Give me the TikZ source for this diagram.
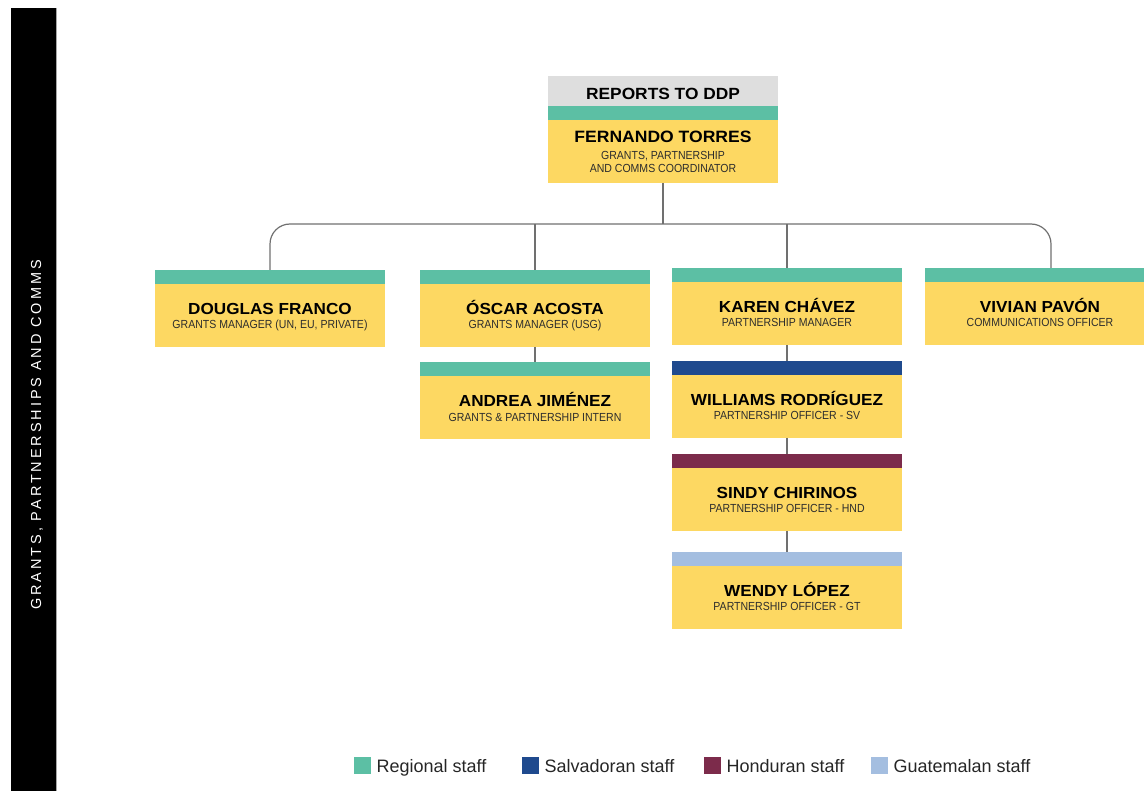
\documentclass[tikz,border=0pt]{standalone}
\usepackage{fontspec}
\setmainfont{Liberation Sans}
\newfontfamily\barfont[LetterSpace=20]{Liberation Sans}
\newfontfamily\namefam[FakeStretch=1.07]{Liberation Sans}
\newfontfamily\subfam[FakeStretch=0.9]{Liberation Sans}
\definecolor{teal}{RGB}{92,191,164}
\definecolor{boxyellow}{RGB}{253,216,98}
\definecolor{headgrey}{RGB}{222,222,222}
\definecolor{navy}{RGB}{31,74,142}
\definecolor{maroon}{RGB}{124,43,75}
\definecolor{lightblue}{RGB}{164,190,224}
\definecolor{linegrey}{RGB}{112,112,112}
\definecolor{subgrey}{RGB}{45,45,45}
\tikzset{
  body/.style={rectangle, fill=boxyellow, minimum width=230pt, minimum height=63pt, inner sep=0pt, outer sep=0pt},
  band/.style={rectangle, fill=#1, minimum width=230pt, minimum height=14pt, inner sep=0pt, outer sep=0pt},
  header/.style={rectangle, fill=headgrey, minimum width=230pt, minimum height=30pt, inner sep=0pt, outer sep=0pt},
  nametext/.style={anchor=base, inner sep=0pt, font=\namefam\fontsize{16}{17}\selectfont\bfseries, text=black},
  bignametext/.style={anchor=base, inner sep=0pt, font=\namefam\fontsize{16.4}{18}\selectfont\bfseries, text=black},
  subtext/.style={anchor=base, inner sep=0pt, font=\subfam\fontsize{11.7}{13}\selectfont, text=subgrey},
  conn/.style={draw=linegrey, line width=1.2pt},
  legsq/.style={rectangle, minimum size=17.5pt, inner sep=0pt},
  legtext/.style={anchor=base west, inner sep=0pt, font=\fontsize{18}{20}\selectfont, text=black!85},
}
\newcommand\person[6]{%
  \node[body, anchor=north west] (#1) at (#2,#3+14) {};
  \node[band=#4, anchor=south] (#1-band) at (#1.north) {};
  \node[nametext] (#1-name) at ([yshift=-30.5pt]#1.north) {#5};
  \node[subtext] (#1-sub) at ([yshift=-45pt]#1.north) {#6};
}
\begin{document}
\begin{tikzpicture}[x=1pt,y=-1pt]
\useasboundingbox (0,0) rectangle (1144,791);
% side bar
\fill[black] (11,8) rectangle (56,791);
\draw[black!35, line width=1.2pt] (56.6,8) -- (56.6,791);
\node[rotate=90, text=white, inner sep=0pt, font=\barfont\fontsize{14.5}{15}\selectfont] (bartitle) at (37,435) {GRANTS, PARTNERSHIPS AND COMMS};

% top box
\node[body, anchor=north west] (fernando) at (548,120) {};
\node[band=teal, anchor=south] (fernando-band) at (fernando.north) {};
\node[header, anchor=south] (fernando-head) at (fernando-band.north) {};
\node[anchor=base, inner sep=0pt, font=\namefam\fontsize{16.2}{18}\selectfont\bfseries] (reports) at ([yshift=-23.2pt]fernando-head.north) {REPORTS TO DDP};
\node[bignametext] (fernando-name) at ([yshift=-23pt]fernando.north) {FERNANDO TORRES};
\node[subtext] (fernando-sub1) at ([yshift=-40pt]fernando.north) {GRANTS, PARTNERSHIP};
\node[subtext] (fernando-sub2) at ([yshift=-53pt]fernando.north) {AND COMMS COORDINATOR};

% people
\person{douglas}{155}{270}{teal}{DOUGLAS FRANCO}{GRANTS MANAGER (UN, EU, PRIVATE)}
\person{oscar}{420}{270}{teal}{ÓSCAR ACOSTA}{GRANTS MANAGER (USG)}
\person{andrea}{420}{362.5}{teal}{ANDREA JIMÉNEZ}{GRANTS \& PARTNERSHIP INTERN}
\person{karen}{672}{268}{teal}{KAREN CHÁVEZ}{PARTNERSHIP MANAGER}
\person{williams}{672}{361}{navy}{WILLIAMS RODRÍGUEZ}{PARTNERSHIP OFFICER - SV}
\person{sindy}{672}{454}{maroon}{SINDY CHIRINOS}{PARTNERSHIP OFFICER - HND}
\person{wendy}{672}{551.5}{lightblue}{WENDY LÓPEZ}{PARTNERSHIP OFFICER - GT}
\person{vivian}{925}{268}{teal}{VIVIAN PAVÓN}{COMMUNICATIONS OFFICER}

% connectors
\coordinate (bus) at (663,224);
\coordinate (vivtop) at ([xshift=11pt]vivian-band.north);
\draw[conn] (fernando.south) -- (bus);
\draw[conn, rounded corners=20pt] (douglas-band.north) |- (bus) -| (vivtop);
\draw[conn] (oscar-band.north) -- (oscar-band.north |- bus);
\draw[conn] (karen-band.north) -- (karen-band.north |- bus);
\draw[conn] (oscar.south) -- (andrea-band.north);
\draw[conn] (karen.south) -- (williams-band.north);
\draw[conn] (williams.south) -- (sindy-band.north);
\draw[conn] (sindy.south) -- (wendy-band.north);

% legend
\node[legsq, fill=teal] (lg1) at (362.5,765.5) {};
\node[legtext] (lg1t) at ([xshift=5pt,yshift=-6.5pt]lg1.east) {Regional staff};
\node[legsq, fill=navy] (lg2) at (530.5,765.5) {};
\node[legtext] (lg2t) at ([xshift=5pt,yshift=-6.5pt]lg2.east) {Salvadoran staff};
\node[legsq, fill=maroon] (lg3) at (712.5,765.5) {};
\node[legtext] (lg3t) at ([xshift=5pt,yshift=-6.5pt]lg3.east) {Honduran staff};
\node[legsq, fill=lightblue] (lg4) at (879.5,765.5) {};
\node[legtext] (lg4t) at ([xshift=5pt,yshift=-6.5pt]lg4.east) {Guatemalan staff};
\end{tikzpicture}
\end{document}
